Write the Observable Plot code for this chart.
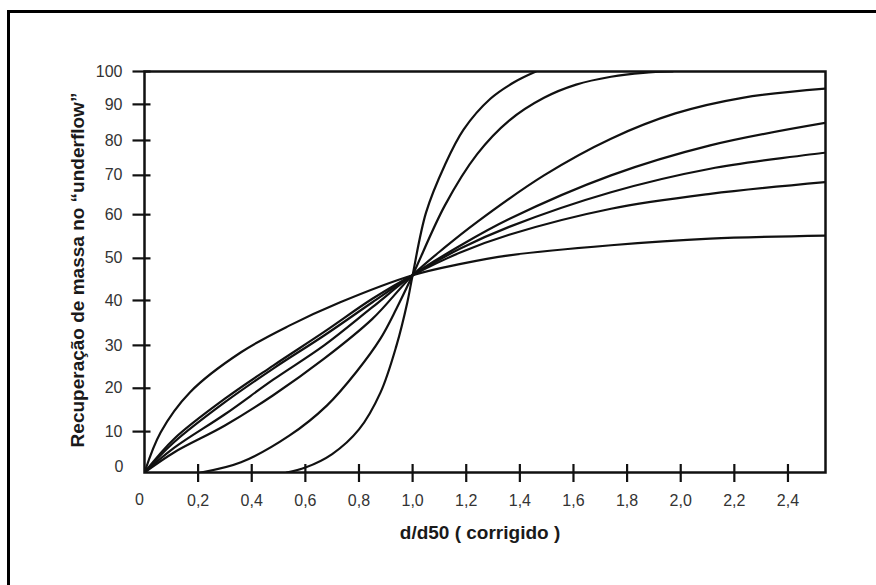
<!DOCTYPE html>
<html><head><meta charset="utf-8">
<script src="https://cdn.jsdelivr.net/npm/d3@7"></script>
<script src="https://cdn.jsdelivr.net/npm/@observablehq/plot@0.6"></script>
<style>
html,body{margin:0;padding:0;background:#fff;}
#wrap{position:relative;width:876px;height:585px;overflow:hidden;}
#border{position:absolute;left:7px;top:10px;width:900px;height:600px;border-top:3px solid #000;border-left:3px solid #000;}
#chart{position:absolute;left:0;top:0;}
</style></head><body>
<div id="wrap"><div id="border"></div><div id="chart"></div></div>
<script>
// Tick values
const xTicks = [0.2, 0.4, 0.6, 0.8, 1.0, 1.2, 1.4, 1.6, 1.8, 2.0, 2.2, 2.4];
const yTicks = [10, 20, 30, 40, 50, 60, 70, 80, 90, 100];
const xTitle = "d/d50 ( corrigido )";
const yTitle = "Recuperação de massa no “underflow”";

// Curves (d/d50, % recovery)
const xA = [0.53, 0.60, 0.70, 0.80, 0.88, 0.94, 0.98, 1.0, 1.05, 1.12, 1.19, 1.29, 1.38, 1.46];
const yA = [0, 1.2, 4.5, 10.5, 19.0, 30.0, 39.5, 46, 60.5, 72.9, 83.0, 91.7, 96.8, 100];

const xB = [0.21, 0.36, 0.54, 0.68, 0.79, 0.88, 0.94, 1.0, 1.12, 1.24, 1.36, 1.49, 1.61, 1.74, 1.86, 1.97];
const yB = [0, 2.5, 9.0, 16.0, 23.8, 31.5, 38.2, 46, 62.3, 76.0, 85.5, 92.0, 96.0, 98.4, 99.6, 100];

const xC = [0, 0.11, 0.30, 0.48, 0.67, 0.85, 1.0, 1.12, 1.24, 1.49, 1.74, 1.98, 2.23, 2.54];
const yC = [0, 4.9, 11.4, 18.4, 26.9, 35.9, 46, 52.5, 58.3, 70, 80.5, 87.5, 92.0, 94.8];

const xD = [0, 0.11, 0.30, 0.48, 0.67, 0.85, 1.0, 1.18, 1.36, 1.74, 2.11, 2.54];
const yD = [0, 6.0, 14.0, 22.0, 30.0, 38.5, 46, 53.0, 59.0, 70, 78.6, 84.9];

const xE = [0, 0.11, 0.30, 0.48, 0.67, 0.85, 1.0, 1.18, 1.36, 1.74, 2.11, 2.54];
const yE = [0, 7.4, 16.8, 24.6, 32.2, 39.6, 46, 52.3, 57.2, 65.7, 71.9, 76.5];

const xF = [0, 0.11, 0.30, 0.48, 0.67, 0.85, 1.0, 1.18, 1.36, 1.74, 2.11, 2.54];
const yF = [0, 8.2, 17.6, 25.3, 33.0, 40.4, 46, 51.4, 55.4, 61.5, 65.3, 68.3];

const xG = [0, 0.06, 0.17, 0.36, 0.54, 0.73, 1.0, 1.18, 1.36, 1.74, 2.11, 2.54];
const yG = [0, 9.8, 19.1, 28.4, 34.4, 39.6, 46, 48.7, 50.7, 53.0, 54.5, 55.2];

function series(name, xs, ys) { return xs.map((x, i) => ({curve: name, x, y: ys[i]})); }
const data = [
  ...series("A", xA, yA), ...series("B", xB, yB), ...series("C", xC, yC),
  ...series("D", xD, yD), ...series("E", xE, yE), ...series("F", xF, yF),
  ...series("G", xG, yG)
];

// The original vertical axis is drawn with uneven tick spacing; reproduce it
// with a piecewise-linear scale transform (tick value -> drawn share of the axis).
const yWarp = d3.scaleLinear()
  .domain([0, 10, 20, 30, 40, 50, 60, 70, 80, 90, 100])
  .range([0, 10.2, 21.0, 31.7, 42.9, 53.4, 64.3, 74.1, 82.8, 91.8, 100]);

const fmt = d => d.toFixed(1).replace(".", ",");
const font = "'Liberation Sans', Arial, Helvetica, sans-serif";

const chart = Plot.plot({
  width: 876, height: 585,
  marginLeft: 144, marginRight: 51, marginTop: 71, marginBottom: 113,
  style: {fontFamily: font, background: "transparent", overflow: "visible"},
  x: {domain: [0, 2.54]},
  y: {domain: [0, 100], transform: d => yWarp(d)},
  marks: [
    Plot.line(data, {x: "x", y: "y", z: "curve", curve: "catmull-rom", clip: true, stroke: "#111", strokeWidth: 2.2, strokeLinejoin: "round"}),
    Plot.frame({stroke: "#111", strokeWidth: 2.5}),
    Plot.axisX(xTicks, {tickSize: 18, dy: -8, tickPadding: 12, tickFormat: fmt, fontSize: 16, fill: "#333", stroke: "#111", strokeWidth: 2.2, label: null}),
    Plot.axisY(yTicks, {tickSize: 18, dx: 6.5, tickPadding: 10.5, fontSize: 16, fill: "#333", stroke: "#111", strokeWidth: 2.2, label: null}),
    Plot.text([0], {x: d => d, y: d => d, text: d => String(d), dx: -21, dy: -6, textAnchor: "end", fontSize: 16, fill: "#333"}),
    Plot.text([0], {x: d => d, y: d => d, text: d => String(d), dx: -5, dy: 27, fontSize: 16, fill: "#333"}),
    Plot.text([xTitle], {frameAnchor: "bottom", dx: -5, dy: 66, fontWeight: "bold", fontSize: 19, fill: "#1a1a1a"}),
    Plot.text([yTitle], {frameAnchor: "left", dx: -67, dy: -2, rotate: -90, textAnchor: "middle", fontWeight: "bold", fontSize: 19, fill: "#1a1a1a"})
  ]
});
document.getElementById("chart").appendChild(chart);
</script>
</body></html>
